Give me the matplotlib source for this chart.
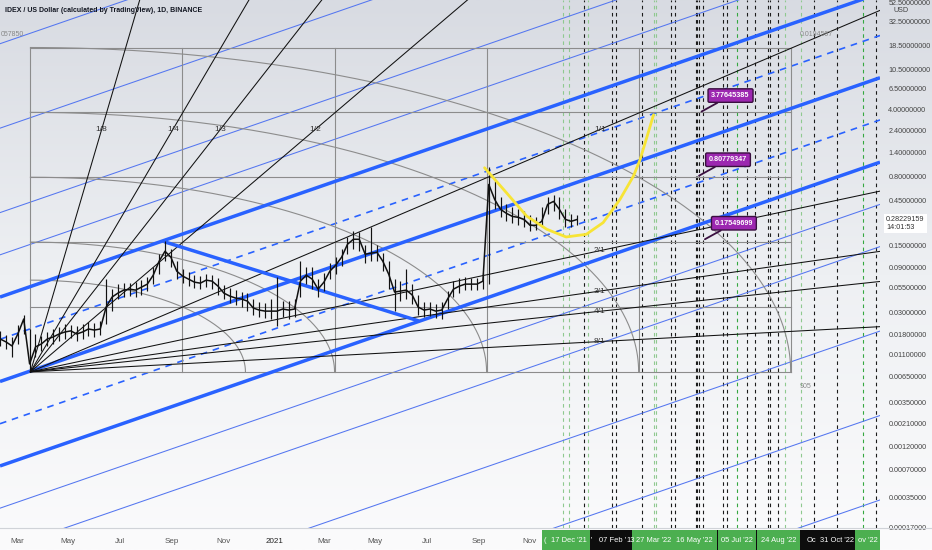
import numpy as np
import pandas as pd
import matplotlib
matplotlib.use('Agg')
import matplotlib.pyplot as plt
import matplotlib.dates as mdates
from matplotlib.colors import LinearSegmentedColormap
from matplotlib.patches import Rectangle

plt.rcParams['font.family'] = ['Liberation Sans', 'DejaVu Sans']

# ---------------- data ----------------
week_start = '2020-02-10'
closes = [0.01597, 0.01487, 0.01351, 0.0180, 0.0258, 0.00877, 0.01319, 0.01417, 0.01597, 0.01676,
          0.0180, 0.0189, 0.0194, 0.0180, 0.0189, 0.0203, 0.0198, 0.0203, 0.0344, 0.0437,
          0.0481, 0.0517, 0.0529, 0.0517, 0.0555, 0.0597, 0.0740, 0.1035, 0.1316, 0.1140,
          0.0815, 0.0723, 0.0673, 0.0626, 0.0611, 0.0657, 0.0641, 0.0569, 0.0481, 0.0448,
          0.0427, 0.0417, 0.0397, 0.0336, 0.0320, 0.0312, 0.0312, 0.0312, 0.0328, 0.0320,
          0.0328, 0.0641, 0.0740, 0.0673, 0.0529, 0.0626, 0.0815, 0.0941, 0.1140, 0.1556,
          0.1754, 0.1754, 0.1225, 0.1254, 0.1285, 0.1035, 0.0758, 0.0493, 0.0505, 0.0517,
          0.0459, 0.0344, 0.0320, 0.0328, 0.0312, 0.0320, 0.0417, 0.0529, 0.0569, 0.0597,
          0.0597, 0.0597, 0.0641, 0.655, 0.457, 0.360, 0.327, 0.304, 0.297, 0.283,
          0.2453, 0.2453, 0.270, 0.406, 0.436, 0.360, 0.283, 0.270, 0.28229]
highs = [0.01935, 0.01758, 0.01676, 0.02235, 0.02839, 0.02030, 0.01801, 0.01717, 0.01889, 0.02030,
         0.02130, 0.02289, 0.02235, 0.02182, 0.02289, 0.02401, 0.02344, 0.02459, 0.06726, 0.05293,
         0.05967, 0.06111, 0.06111, 0.06259, 0.06567, 0.07056, 0.08966, 0.1224, 0.1672, 0.1380,
         0.1035, 0.08547, 0.07954, 0.07403, 0.07227, 0.07582, 0.07403, 0.06889, 0.05825, 0.05421,
         0.05168, 0.04926, 0.04809, 0.04165, 0.03876, 0.03784, 0.04165, 0.07056, 0.03970, 0.03970,
         0.04165, 0.1035, 0.08966, 0.08966, 0.06726, 0.07766, 0.09867, 0.1139, 0.1380, 0.1840,
         0.2125, 0.2074, 0.1519, 0.2338, 0.1519, 0.1254, 0.1035, 0.06726, 0.06411, 0.08547,
         0.05967, 0.04584, 0.03876, 0.03876, 0.03695, 0.03876, 0.05045, 0.06411, 0.06889, 0.07056,
         0.06889, 0.06889, 0.07766, 0.9847, 0.7040, 0.4798, 0.4057, 0.3775, 0.3599, 0.3431,
         0.3117, 0.2971, 0.3775, 0.4798, 0.5034, 0.4798, 0.3599, 0.3193, 0.3117]
lows = [0.01350, 0.01257, 0.01038, 0.01417, 0.01801, 0.007246, 0.01038, 0.01198, 0.01350, 0.01417,
        0.01522, 0.01597, 0.01636, 0.01522, 0.01597, 0.01717, 0.01676, 0.01758, 0.02289, 0.03125,
        0.04165, 0.04370, 0.04476, 0.04370, 0.04584, 0.05045, 0.05967, 0.07582, 0.1035, 0.08966,
        0.06726, 0.06111, 0.05688, 0.05421, 0.05293, 0.05553, 0.05293, 0.04584, 0.04165, 0.03784,
        0.03607, 0.03439, 0.03125, 0.02839, 0.02706, 0.02642, 0.02580, 0.02182, 0.02706, 0.02580,
        0.02706, 0.04370, 0.05967, 0.05293, 0.04370, 0.05045, 0.06726, 0.07582, 0.09183, 0.1224,
        0.1380, 0.1315, 0.09867, 0.1035, 0.1035, 0.08147, 0.05293, 0.03125, 0.03970, 0.04165,
        0.03695, 0.02839, 0.02706, 0.02772, 0.02642, 0.02580, 0.03278, 0.04370, 0.04809, 0.05168,
        0.05168, 0.05168, 0.05293, 0.05967, 0.3599, 0.2971, 0.2699, 0.2573, 0.2453, 0.2338,
        0.2125, 0.2176, 0.2338, 0.3193, 0.3431, 0.2832, 0.2338, 0.2338, 0.2453]
last_price = 0.28229159

x_start, x_end = '2020-02-09 19:00', '2022-12-22 05:00'
y_min, y_max = 1.767e-4, 55.14

# Gann box / fan
box_start, box_end = '2020-03-17', '2022-09-07'
box_cols = 5
box_levels = [0.00725, 0.0341, 0.1644, 0.781, 3.71, 17.6]
arc_radii = [1.414, 2, 3, 4, 5]
fan_a = ('2020-03-17', 0.00725)
fan_b = ('2022-01-23', 2.447)
fan_ratios = [(1, 8), (1, 4), (1, 3), (1, 2), (1, 1), (2, 1), (3, 1), (4, 1), (8, 1)]

# parallel channel
chan_date0, chan_price0 = '2020-03-17', 0.0074
chan_slope = 0.00303      # decades per day
chan_step = 0.8814        # decades between channel lines
thick_levels = [1, 0, -1]
dashed_levels = [0.5, -0.5]
thin_levels = [4, 3, 2, 1.5, -1.5, -2, -3, -4, -5]

# descending trend line
down_dates = ['2020-08-24', '2021-06-21']
down_prices = [0.1644, 0.02476]

# yellow cup curve
cup_dates = ['2021-09-08', '2021-10-04', '2021-10-28', '2021-11-21', '2021-12-14', '2022-01-07',
             '2022-01-27', '2022-02-16', '2022-03-04', '2022-03-12', '2022-03-28']
cup_prices = [0.978, 0.537, 0.3065, 0.2229, 0.1854, 0.1977, 0.2618, 0.4573, 0.7995, 1.193, 3.507]

# callouts
call_dates = ['2022-05-24', '2022-05-21', '2022-05-28']
call_prices = [3.77645385, 0.80779347, 0.17549699]

# vertical time lines
vl_dates = ['2021-12-10', '2021-12-17', '2022-01-04', '2022-01-09', '2022-02-07', '2022-02-11',
            '2022-03-14', '2022-03-28', '2022-03-31', '2022-04-18', '2022-04-22', '2022-05-17',
            '2022-05-19', '2022-05-21', '2022-05-26', '2022-06-18', '2022-06-23', '2022-07-05',
            '2022-07-17', '2022-07-27', '2022-08-11', '2022-08-14', '2022-08-23', '2022-08-31',
            '2022-09-19', '2022-10-05', '2022-11-01', '2022-12-02', '2022-12-18']
vl_kind = ['lg', 'lg', 'k', 'lg', 'k', 'k', 'k', 'lg', 'lg', 'k', 'k', 'k',
           'k', 'k', 'k', 'k', 'k', 'g', 'k', 'k', 'k', 'k', 'k', 'lg',
           'lg', 'k', 'k', 'g', 'k']

# date tags on the time axis
span_starts = ['2021-11-15', '2022-01-11', '2022-03-02', '2022-06-11', '2022-06-13', '2022-07-28',
               '2022-07-29', '2022-09-18', '2022-11-22']
span_ends = ['2022-01-11', '2022-03-02', '2022-06-11', '2022-06-13', '2022-07-28', '2022-07-29',
             '2022-09-18', '2022-11-22', '2022-12-22']
span_kind = ['g', 'k', 'g', 'k', 'g', 'k', 'g', 'k', 'g']
tag_dates = ['2021-11-19', '2021-12-17', '2022-01-13', '2022-02-07', '2022-03-01', '2022-03-28',
             '2022-05-16', '2022-07-05', '2022-08-24', '2022-10-02', '2022-11-01', '2022-12-08']
tag_texts = ["(", "17 Dec '21", "'", "07 Feb '", "13", "27 Mar '22", "16 May '22", "05 Jul '22",
             "24 Aug '22", "Oc", "31 Oct '22", "ov '22"]

ytick_vals = [52.5, 32.5, 18.5, 10.5, 6.5, 4.0, 2.4, 1.4, 0.8, 0.45, 0.15, 0.09, 0.055, 0.03,
              0.018, 0.011, 0.0065, 0.0035, 0.0021, 0.0012, 0.0007, 0.00035, 0.00017]
month_ticks = ['2020-03-01', '2020-05-01', '2020-07-01', '2020-09-01', '2020-11-01', '2021-01-01',
               '2021-03-01', '2021-05-01', '2021-07-01', '2021-09-01', '2021-11-01']
month_labels = ['Mar', 'May', 'Jul', 'Sep', 'Nov', '2021', 'Mar', 'May', 'Jul', 'Sep', 'Nov']

# ---------------- drawing ----------------
W, H = 932, 550
fig = plt.figure(figsize=(W / 100, H / 100), dpi=100)
bg = fig.add_axes([0, 0, 1, 1], zorder=-5)
grad = np.linspace(0, 1, 256)[:, None]
cmap = LinearSegmentedColormap.from_list('bg', ['#d8dbe2', '#eef0f3', '#fbfbfc'])
bg.imshow(grad, aspect='auto', cmap=cmap, extent=[0, 1, 0, 1], origin='upper')
bg.axis('off')

ax = fig.add_axes([0, 22 / H, 880 / W, 528 / H])
ax.set_facecolor('none')
ax.set_yscale('log')
d = lambda s: mdates.date2num(pd.Timestamp(s))
X0, X1 = d(x_start), d(x_end)
ax.set_xlim(X0, X1)
ax.set_ylim(y_min, y_max)
for s in ax.spines.values():
    s.set_visible(False)

BLUE = '#2962ff'

# vertical lines
kind_col = {'k': '#1b1b1b', 'g': '#35a840', 'lg': '#8fc98f'}
for dt, k in zip(vl_dates, vl_kind):
    ax.axvline(d(dt), color=kind_col[k], lw=0.8, dashes=(3.2, 3.2), zorder=1)

# channel
t0 = d(chan_date0)
l0 = np.log10(chan_price0)
def chan_line(k):
    xs = np.array([X0, X1])
    return xs, 10 ** (l0 + chan_slope * (xs - t0) + k * chan_step)
for k in thin_levels:
    ax.plot(*chan_line(k), color='#5476f0', lw=0.75, zorder=2)
for k in dashed_levels:
    ax.plot(*chan_line(k), color=BLUE, lw=1.2, dashes=(4, 3.5), zorder=2)
for k in thick_levels:
    ax.plot(*chan_line(k), color=BLUE, lw=2.5, zorder=3, solid_capstyle='butt')

# Gann box
bs, be = d(box_start), d(box_end)
colw = (be - bs) / box_cols
GR = '#8c8c8c'
for i in range(box_cols + 1):
    ax.plot([bs + i * colw] * 2, [box_levels[0], box_levels[-1]], color=GR, lw=0.8, zorder=2)
for lv in box_levels:
    ax.plot([bs, be], [lv, lv], color=GR, lw=0.8, zorder=2)
lA = np.log10(box_levels[0])
rowh = (np.log10(box_levels[-1]) - lA) / box_cols
th = np.linspace(0, np.pi / 2, 200)
for r in arc_radii:
    ax.plot(bs + r * colw * np.cos(th), 10 ** (lA + r * rowh * np.sin(th)), color=GR, lw=0.8, zorder=2)

# Gann fan
ta, pa = d(fan_a[0]), np.log10(fan_a[1])
tb, pb = d(fan_b[0]), np.log10(fan_b[1])
for num, den in fan_ratios:
    if den > 1:
        tx, px = ta + (tb - ta) / den, pb
    else:
        tx, px = tb, pa + (pb - pa) / num
    ax.plot([ta, ta + 25 * (tx - ta)], [10 ** pa, 10 ** (pa + 25 * (px - pa))],
            color='#111111', lw=0.75, zorder=3)
    ax.text(tx, 10 ** px, f'{num}/{den}', fontsize=6, color='#333333', ha='center', va='center', zorder=4)

# descending thick line
ax.plot([d(s) for s in down_dates], down_prices, color=BLUE, lw=2.5, zorder=3, solid_capstyle='round')

# price bars
pdates = mdates.date2num(pd.date_range(week_start, periods=len(closes), freq='7D'))
ax.vlines(pdates, lows, highs, color='#111111', lw=0.85, zorder=4)
ax.plot(pdates, closes, color='#111111', lw=1.1, zorder=4)

# yellow curve
ax.plot([d(s) for s in cup_dates], cup_prices, color='#f7e436', lw=2.0, zorder=5, solid_capstyle='round')

# callouts
for dt, p in zip(call_dates, call_prices):
    ax.annotate(f'{p:.8f}', xy=(d(dt), p), xytext=(29, 16), textcoords='offset pixels',
                fontsize=5.2, color='white', ha='center', va='center', fontweight='bold',
                bbox=dict(boxstyle='round,pad=0.45,rounding_size=0.2', fc='#9c27b0', ec='#3a1040', lw=1),
                arrowprops=dict(arrowstyle='-', color='#3a1040', lw=1.3, shrinkA=0, shrinkB=0), zorder=6)

# title and box labels
fig.text(5 / W, 1 - 11 / H, 'IDEX / US Dollar (calculated by TradingView), 1D, BINANCE',
         fontsize=5.05, color='#131722', fontweight='bold', va='center', ha='left')
fig.text(0.5 / W, 1 - 34 / H, '057850', fontsize=5, color='#888888', va='center', ha='left')
fig.text(800 / W, 1 - 34 / H, '0.0194597', fontsize=5, color='#888888', va='center', ha='left')
fig.text(800 / W, 1 - 386 / H, '905', fontsize=5, color='#888888', va='center', ha='left')

# axes ticks
ax.yaxis.tick_right()
ax.set_yticks(ytick_vals)
ax.set_yticklabels([f'{v:.8f}' for v in ytick_vals])
ax.yaxis.set_minor_locator(matplotlib.ticker.NullLocator())
ax.tick_params(axis='y', length=0, pad=6, labelsize=5.2, labelcolor='#444444')
ax.set_xticks([d(s) for s in month_ticks])
ax.set_xticklabels(month_labels)
ax.tick_params(axis='x', length=0, pad=7, labelsize=5.8, labelcolor='#555555')
for lbl in ax.get_xticklabels():
    if lbl.get_text() == '2021':
        lbl.set_color('#222222')
fig.text(893 / W, 1 - 11 / H, 'USD', fontsize=5.2, color='#444444', va='center', ha='left')

# current price label
ax.annotate(f'{last_price:.8f}\n14:01:53', xy=(1, last_price), xycoords=('axes fraction', 'data'),
            xytext=(6, -4), textcoords='offset pixels', fontsize=5.2, color='#333333',
            ha='left', va='center', linespacing=1.1, annotation_clip=False,
            bbox=dict(boxstyle='square,pad=0.3', fc='white', ec='none'))

# bottom line
fig.add_artist(plt.Line2D([0, 1], [22.5 / H, 22.5 / H], color='#d0d3d8', lw=0.8))

# date tags
tag_col = {'g': '#4caf50', 'k': '#0d0d0d'}
tb_trans = matplotlib.transforms.blended_transform_factory(ax.transData, fig.transFigure)
for s0, s1, k in zip(span_starts, span_ends, span_kind):
    fig.add_artist(Rectangle((d(s0), 0), d(s1) - d(s0), 20.5 / H, transform=tb_trans,
                             fc=tag_col[k], ec='none', zorder=9))
for dt, txt in zip(tag_dates, tag_texts):
    fig.text(d(dt), 10 / H, txt, transform=tb_trans, fontsize=5.4, color='white',
             ha='center', va='center', zorder=10)

fig.savefig('out.png', dpi=100)
